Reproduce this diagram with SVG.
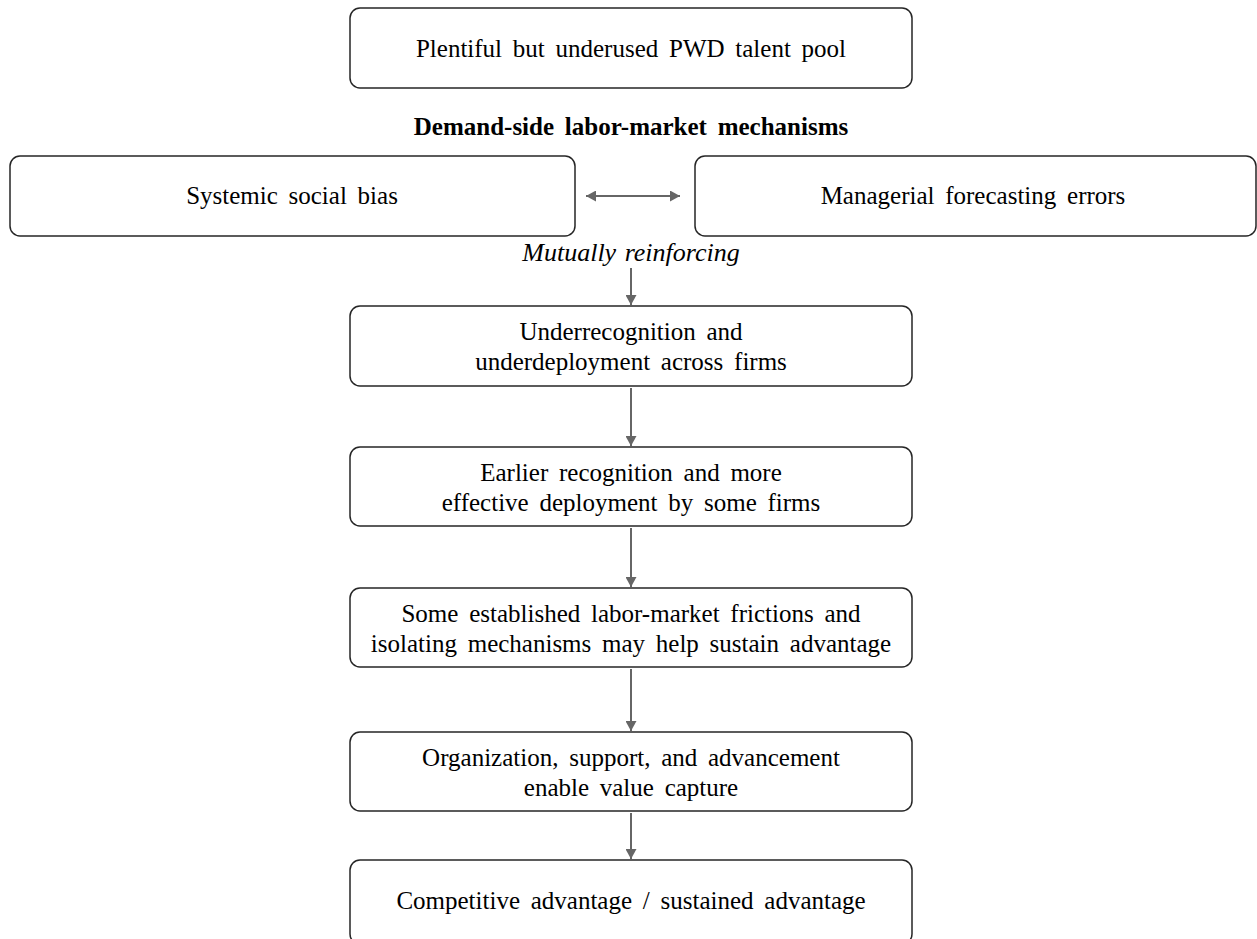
<svg xmlns="http://www.w3.org/2000/svg" width="1257" height="939" viewBox="0 0 1257 939">
<style>
.box{fill:#fff;stroke:#262626;stroke-width:1.5}
.t{font-family:"Liberation Serif","Times New Roman",serif;font-size:25px;fill:#000;text-anchor:middle;word-spacing:4.5px}
.b{font-weight:bold}
.i{font-style:italic;word-spacing:2px;font-size:26px}
.c{stroke:#666;stroke-width:2;fill:none}
</style>
<defs>
<marker id="ah" viewBox="0 0 10 10" refX="10" refY="5" markerWidth="10" markerHeight="11" markerUnits="userSpaceOnUse" orient="auto-start-reverse" preserveAspectRatio="none">
<path d="M0,0 L10,5 L0,10 z" fill="#666"/>
</marker>
</defs>
<rect width="1257" height="939" fill="#fff"/>
<g id="connectors">
<line class="c" x1="586" y1="196" x2="680" y2="196" marker-start="url(#ah)" marker-end="url(#ah)"/>
<line class="c" x1="631" y1="268" x2="631" y2="305" marker-end="url(#ah)"/>
<line class="c" x1="631" y1="388" x2="631" y2="446" marker-end="url(#ah)"/>
<line class="c" x1="631" y1="528" x2="631" y2="587" marker-end="url(#ah)"/>
<line class="c" x1="631" y1="669" x2="631" y2="731" marker-end="url(#ah)"/>
<line class="c" x1="631" y1="813" x2="631" y2="859" marker-end="url(#ah)"/>
</g>
<g id="n-pool"><rect class="box" x="350" y="8" width="562" height="80" rx="10"/><text class="t" x="631" y="57">Plentiful but underused PWD talent pool</text></g>
<g id="n-header"><text class="t b" x="631" y="135">Demand-side labor-market mechanisms</text></g>
<g id="n-bias"><rect class="box" x="10" y="156" width="565" height="80" rx="10"/><text class="t" x="292" y="204">Systemic social bias</text></g>
<g id="n-forecast"><rect class="box" x="695" y="156" width="561" height="80" rx="10"/><text class="t" x="973" y="204">Managerial forecasting errors</text></g>
<g id="n-mutual"><text class="t i" x="631" y="261">Mutually reinforcing</text></g>
<g id="n-under"><rect class="box" x="350" y="306" width="562" height="80" rx="10"/><text class="t" x="631" y="340">Underrecognition and</text><text class="t" x="631" y="370">underdeployment across firms</text></g>
<g id="n-earlier"><rect class="box" x="350" y="447" width="562" height="79" rx="10"/><text class="t" x="631" y="481">Earlier recognition and more</text><text class="t" x="631" y="511">effective deployment by some firms</text></g>
<g id="n-frictions"><rect class="box" x="350" y="588" width="562" height="79" rx="10"/><text class="t" x="631" y="622">Some established labor-market frictions and</text><text class="t" x="631" y="652">isolating mechanisms may help sustain advantage</text></g>
<g id="n-org"><rect class="box" x="350" y="732" width="562" height="79" rx="10"/><text class="t" x="631" y="766">Organization, support, and advancement</text><text class="t" x="631" y="796">enable value capture</text></g>
<g id="n-comp"><rect class="box" x="350" y="860" width="562" height="84" rx="10"/><text class="t" x="631" y="909">Competitive advantage / sustained advantage</text></g>
</svg>
